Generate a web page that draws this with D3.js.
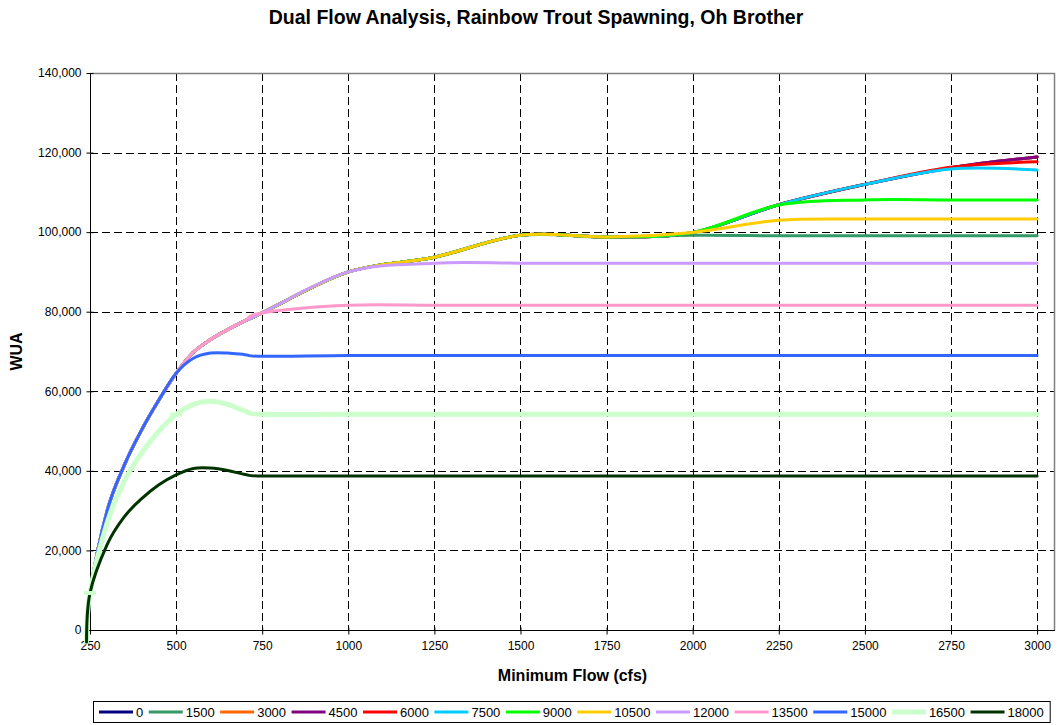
<!DOCTYPE html>
<html>
<head>
<meta charset="utf-8">
<script src="https://cdn.jsdelivr.net/npm/d3@7"></script>
<style>
  html, body { margin: 0; padding: 0; background: #fff; }
  svg { display: block; font-family: "Liberation Sans", Arial, sans-serif; }
</style>
</head>
<body>
<svg id="chart" width="1057" height="725"></svg>
<script>
// ---- data ----
const flows = [240, 250, 300, 350, 400, 450, 500, 550, 600, 650, 700, 750, 1000, 1250, 1500, 1750, 2000, 2250, 2500, 2750, 3000];
const seriesNames = ["0", "1500", "3000", "4500", "6000", "7500", "9000", "10500", "12000", "13500", "15000", "16500", "18000"];
const seriesColors = ["#000080", "#339966", "#FF6600", "#800080", "#FF0000", "#00CCFF", "#00FF00", "#FFCC00", "#CC99FF", "#FF99CC", "#3366FF", "#CCFFCC", "#003300"];
const wua0     = [-3000, 9300, 30000, 41500, 50300, 57800, 64500, 69800, 73000, 75500, 77700, 79700, 90000, 93700, 99200, 98800, 99900, 106900, 112000, 116200, 118900];
const wua1500  = [-3000, 9300, 30000, 41500, 50300, 57800, 64500, 69800, 73000, 75500, 77700, 79700, 90000, 93700, 99200, 98700, 99200, 99100, 99100, 99100, 99100];
const wua3000  = [-3000, 9300, 30000, 41500, 50300, 57800, 64500, 69800, 73000, 75500, 77700, 79700, 90000, 93700, 99200, 98800, 99900, 106900, 112000, 116200, 118900];
const wua4500  = [-3000, 9300, 30000, 41500, 50300, 57800, 64500, 69800, 73000, 75500, 77700, 79700, 90000, 93700, 99200, 98800, 99900, 106900, 112000, 116200, 118900];
const wua6000  = [-3000, 9300, 30000, 41500, 50300, 57800, 64500, 69800, 73000, 75500, 77700, 79700, 90000, 93700, 99200, 98800, 99900, 106900, 112000, 116300, 117700];
const wua7500  = [-3000, 9300, 30000, 41500, 50300, 57800, 64500, 69800, 73000, 75500, 77700, 79700, 90000, 93700, 99200, 98800, 99900, 106900, 112000, 115900, 115600];
const wua9000  = [-3000, 9300, 30000, 41500, 50300, 57800, 64500, 69800, 73000, 75500, 77700, 79700, 90000, 93700, 99200, 98800, 99900, 106800, 108100, 108100, 108100];
const wua10500 = [-3000, 9300, 30000, 41500, 50300, 57800, 64500, 69800, 73000, 75500, 77700, 79700, 90000, 93700, 99200, 98800, 99900, 103000, 103300, 103300, 103300];
const wua12000 = [-3000, 9300, 30000, 41500, 50300, 57800, 64500, 69800, 73000, 75500, 77700, 79700, 90000, 92200, 92200, 92200, 92200, 92200, 92200, 92200, 92200];
const wua13500 = [-3000, 9300, 30000, 41500, 50300, 57800, 64500, 69800, 73000, 75500, 77700, 79700, 81600, 81600, 81600, 81600, 81600, 81600, 81600, 81600, 81600];
const wua15000 = [-3000, 9300, 30000, 41500, 50300, 57800, 64500, 68300, 69600, 69600, 69200, 68800, 69000, 69000, 69000, 69000, 69000, 69000, 69000, 69000, 69000];
const wua16500 = [-3000, 9300, 27000, 37500, 44500, 50000, 54200, 56700, 57500, 56700, 55000, 54200, 54200, 54200, 54200, 54200, 54200, 54200, 54200, 54200, 54200];
const wua18000 = [-3000, 9300, 21500, 28500, 33000, 36500, 39000, 40600, 40700, 40100, 39100, 38700, 38700, 38700, 38700, 38700, 38700, 38700, 38700, 38700, 38700];
const seriesValues = [wua0, wua1500, wua3000, wua4500, wua6000, wua7500, wua9000, wua10500, wua12000, wua13500, wua15000, wua16500, wua18000];
const markerFlows16500 = [250, 500];
const xTicks = [250, 500, 750, 1000, 1250, 1500, 1750, 2000, 2250, 2500, 2750, 3000];
const yTicks = [0, 20000, 40000, 60000, 80000, 100000, 120000, 140000];
const titleText = "Dual Flow Analysis, Rainbow Trout Spawning, Oh Brother";
const xTitle = "Minimum Flow (cfs)";
const yTitle = "WUA";

// ---- layout ----
const plot = { left: 90, right: 1055, top: 73, bottom: 630 };
const svg = d3.select("#chart");

const x = d3.scaleLinear().domain([250, 3052]).range([plot.left, plot.right]);
const y = d3.scaleLinear().domain([0, 140000]).range([plot.bottom, plot.top]);

// grid
const grid = svg.append("g");
grid.selectAll("line.h").data(yTicks.filter(d => d > 0 && d < 140000)).enter().append("line")
  .attr("x1", plot.left).attr("x2", plot.right)
  .attr("y1", d => Math.round(y(d)) + 0.5).attr("y2", d => Math.round(y(d)) + 0.5)
  .attr("stroke", "#000").attr("stroke-width", 1).attr("stroke-dasharray", "8,4");
grid.selectAll("line.v").data(xTicks).enter().append("line")
  .attr("x1", d => Math.round(x(d)) + 0.5).attr("x2", d => Math.round(x(d)) + 0.5)
  .attr("y1", plot.top).attr("y2", plot.bottom)
  .attr("stroke", "#000").attr("stroke-width", 1).attr("stroke-dasharray", "8,4");

// plot border top/right
svg.append("path")
  .attr("d", `M${plot.left + 0.5},${plot.top + 0.5}H${plot.right - 0.5}V${plot.bottom}`)
  .attr("fill", "none").attr("stroke", "#808080").attr("stroke-width", 1.5);

// axes
const yAxis = d3.axisLeft(y).tickValues(yTicks).tickSize(4).tickPadding(5)
  .tickFormat(d3.format(","));
const gy = svg.append("g").attr("transform", `translate(${plot.left + 0.5},0)`).call(yAxis);
gy.select(".domain").attr("stroke", "#000").attr("d", `M0,${plot.top}V${plot.bottom}`);
gy.selectAll(".tick line").attr("x2", -4).attr("x1", 3).attr("stroke", "#000");
gy.selectAll("text").attr("font-size", 12).attr("fill", "#000")
  .attr("font-family", "Liberation Sans, Arial, sans-serif");

const xAxis = d3.axisBottom(x).tickValues(xTicks).tickSize(4).tickPadding(7).tickFormat(d3.format("d"));
const gx = svg.append("g").attr("transform", `translate(0,${plot.bottom + 0.5})`).call(xAxis);
gx.select(".domain").attr("stroke", "#000").attr("d", `M${plot.left},0H${plot.right}`);
gx.selectAll(".tick line").attr("stroke", "#000").attr("y1", -3);
gx.selectAll("text").attr("font-size", 12).attr("fill", "#000")
  .attr("font-family", "Liberation Sans, Arial, sans-serif");

// lines
const line = d3.line()
  .x((d, i) => x(flows[i]))
  .y(d => y(d))
  .curve(d3.curveCardinal.tension(0));

svg.append("g").selectAll("path").data(seriesValues).enter().append("path")
  .attr("d", d => line(d))
  .attr("fill", "none")
  .attr("stroke", (d, i) => seriesColors[i])
  .attr("stroke-width", (d, i) => seriesNames[i] === "16500" ? 5 : 3)
  .attr("stroke-linejoin", "round")
  .attr("stroke-linecap", "round");

// markers on 16500
const idx16500 = seriesNames.indexOf("16500");
svg.append("g").selectAll("rect").data(markerFlows16500).enter().append("rect")
  .attr("x", d => x(d) - 6)
  .attr("y", d => y(seriesValues[idx16500][flows.indexOf(d)]) - 2)
  .attr("width", 12).attr("height", 4)
  .attr("fill", seriesColors[idx16500]);

// titles
svg.append("text").attr("x", 536).attr("y", 24).attr("text-anchor", "middle")
  .attr("font-size", 19.5).attr("font-weight", "bold").text(titleText);
svg.append("text").attr("x", (plot.left + plot.right) / 2).attr("y", 681).attr("text-anchor", "middle")
  .attr("font-size", 16).attr("font-weight", "bold").text(xTitle);
svg.append("text").attr("transform", `translate(22,${(plot.top + plot.bottom) / 2}) rotate(-90)`)
  .attr("text-anchor", "middle").attr("font-size", 16).attr("font-weight", "bold").text(yTitle);

// legend
const leg = svg.append("g");
const legBox = leg.append("rect").attr("x", 93.5).attr("y", 701.5).attr("height", 21)
  .attr("fill", "#fff").attr("stroke", "#000").attr("stroke-width", 1);
let cx = 99;
seriesNames.forEach((name, i) => {
  leg.append("line").attr("x1", cx).attr("x2", cx + 34).attr("y1", 712).attr("y2", 712)
    .attr("stroke", seriesColors[i]).attr("stroke-width", name === "16500" ? 5 : 3);
  const t = leg.append("text").attr("x", cx + 37).attr("y", 717).attr("font-size", 13).text(name);
  cx += 37 + t.node().getComputedTextLength() + 5.5;
});
legBox.attr("width", Math.max(cx + 1, 1050) - 93.5);
</script>
</body>
</html>
